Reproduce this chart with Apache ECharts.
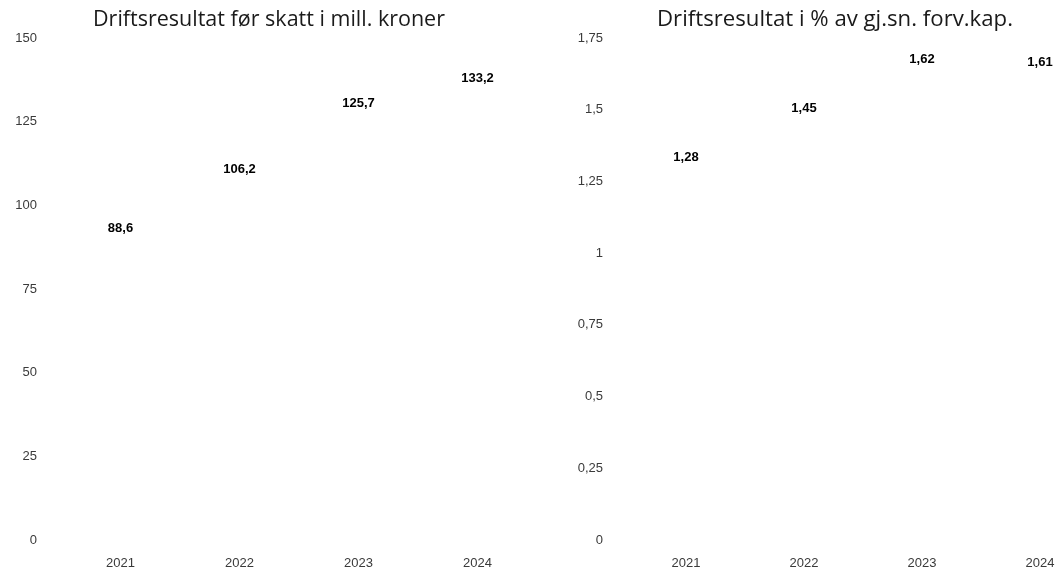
<!DOCTYPE html>
<html>
<head>
<meta charset="utf-8">
<script src="https://cdn.jsdelivr.net/npm/echarts@6/dist/echarts.min.js"></script>
<style>
  html, body { margin: 0; padding: 0; background: #fff; }
  #chart { width: 1058px; height: 574px; }
</style>
</head>
<body>
<div id="chart"></div>
<script>
  // år
  const years = ['2021', '2022', '2023', '2024']
  // driftsresultat før skatt, mill. kr
  const resultat = [88.6, 106.2, 125.7, 133.2]
  // driftsresultat i % av gj.sn. forvaltningskapital
  const prosent = [1.28, 1.45, 1.62, 1.61]

  const titles = ['Driftsresultat før skatt i mill. kroner', 'Driftsresultat i % av gj.sn. forv.kap.']

  const komma = (v, d) => {
    let s = d == null ? String(v) : v.toFixed(d)
    return s.replace('.', ',')
  }

  const axisFont = { fontFamily: 'Liberation Sans', fontSize: 13, color: '#3a3a3a' }
  const titleStyle = size => ({ fontFamily: 'Open Sans', fontSize: size, fontWeight: 'normal', color: '#1a1a1a' })

  const chart = echarts.init(document.getElementById('chart'))

  function makeX(gridIndex) {
    return {
      type: 'category',
      gridIndex: gridIndex,
      data: years,
      axisLine: { show: false },
      axisTick: { show: false },
      axisLabel: Object.assign({ margin: 17 }, axisFont)
    }
  }

  function makeY(gridIndex, max, interval) {
    return {
      type: 'value',
      gridIndex: gridIndex,
      min: 0,
      max: max,
      interval: interval,
      splitLine: { show: false },
      axisLine: { show: false },
      axisTick: { show: false },
      axisLabel: Object.assign({
        margin: 24,
        formatter: v => komma(v)
      }, axisFont)
    }
  }

  function makeSeries(idx, data, dec) {
    return {
      type: 'bar',
      xAxisIndex: idx,
      yAxisIndex: idx,
      data: data,
      barWidth: '60%',
      itemStyle: { color: 'rgba(255,255,255,0)' },
      label: {
        show: true,
        position: 'top',
        distance: 9,
        fontFamily: 'Liberation Sans',
        fontSize: 13,
        fontWeight: 'bold',
        color: '#000',
        formatter: p => komma(p.value, dec)
      }
    }
  }

  chart.setOption({
    animation: false,
    title: [
      { text: titles[0], left: 264, top: 4, textAlign: 'center', textStyle: titleStyle(21.5) },
      { text: titles[1], left: 830, top: 4, textAlign: 'center', textStyle: titleStyle(22.2) }
    ],
    grid: [
      { left: 61, right: 521, top: 38, bottom: 34, outerBoundsMode: 'none' },
      { left: 627, right: -41, top: 38, bottom: 34, outerBoundsMode: 'none' }
    ],
    xAxis: [makeX(0), makeX(1)],
    yAxis: [makeY(0, 150, 25), makeY(1, 1.75, 0.25)],
    series: [makeSeries(0, resultat, 1), makeSeries(1, prosent, 2)]
  })
</script>
</body>
</html>
